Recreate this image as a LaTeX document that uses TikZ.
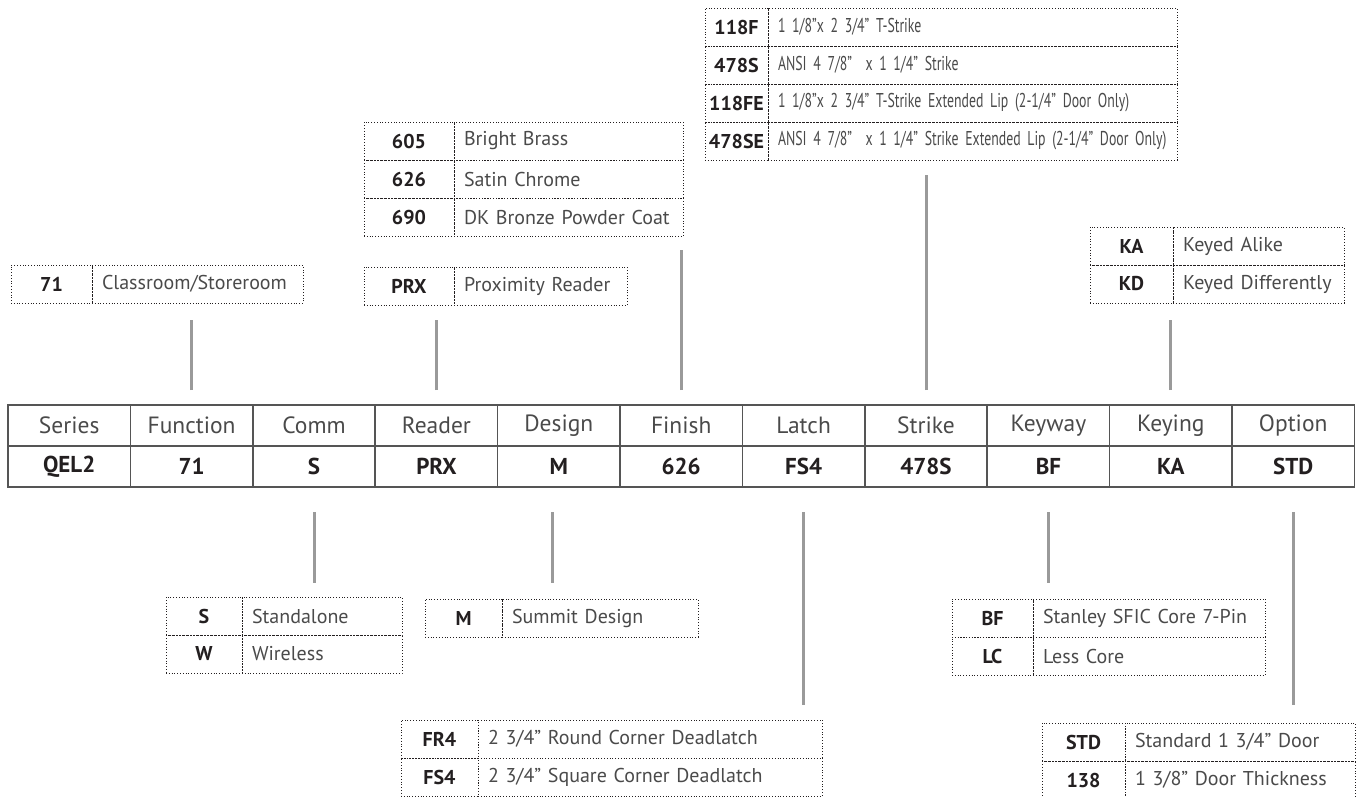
\documentclass[tikz,border=0pt]{standalone}
\usepackage{fontspec}
\setmainfont{PT Sans}
\newfontfamily\narrowfont{PT Sans}[FakeStretch=0.69, WordSpace=0.7]
\usetikzlibrary{positioning}

\definecolor{txtgray}{HTML}{4A4A4A}
\definecolor{codeblack}{HTML}{231F20}
\definecolor{linegray}{HTML}{9A9A9A}
\definecolor{framegray}{HTML}{555555}

\tikzset{
  cell/.style={draw=framegray, line width=1.5pt, minimum width=122.4pt, minimum height=41pt,
    inner sep=0pt, outer sep=0pt},
  head/.style={cell, text=txtgray, font=\fontsize{23.5}{26}\selectfont},
  val/.style={cell, text=codeblack, font=\fontsize{23}{26}\selectfont\bfseries},
  dotbox/.style={draw=codeblack, dotted, line width=0.8pt, inner sep=0pt, outer sep=0pt,
    minimum height=38pt, font=\fontsize{20}{23}\selectfont},
  code/.style={dotbox, minimum width=#1, text=codeblack, font=\fontsize{20}{23}\selectfont\bfseries},
  desc/.style={dotbox, text width=#1, inner xsep=10pt, align=left, text=txtgray},
  link/.style={draw=linegray, line width=3pt},
}

\begin{document}
\begin{tikzpicture}[x=1pt, y=-1pt]
  \useasboundingbox (0,0) rectangle (1364,796);

  % ordering table
  \foreach \hd/\vl [count=\i] in {Series/QEL2, Function/71, Comm/S, Reader/PRX, Design/M,
      Finish/626, Latch/FS4, Strike/478S, Keyway/BF, Keying/KA, Option/STD} {
    \node[head] (h\i) at ({8+122.4*(\i-0.5)}, 425.5) {\hd};
    \node[val]  (v\i) at ({8+122.4*(\i-0.5)}, 466.5) {\vl};
  }

  % function
  \node[code=81pt, anchor=north west] (fn1) at (11,265) {71};
  \node[desc=191pt, right=0pt of fn1] (fn1d) {Classroom/Storeroom};

  % reader
  \node[code=90pt, anchor=north west] (rd1) at (364,267) {PRX};
  \node[desc=153pt, right=0pt of rd1] (rd1d) {Proximity Reader};

  % finish
  \node[code=90pt, anchor=north west] (fin1) at (364,122) {605};
  \node[desc=209pt, right=0pt of fin1] (fin1d) {Bright Brass};
  \node[code=90pt, below=0pt of fin1] (fin2) {626};
  \node[desc=209pt, right=0pt of fin2] (fin2d) {Satin Chrome};
  \node[code=90pt, below=0pt of fin2] (fin3) {690};
  \node[desc=209pt, right=0pt of fin3] (fin3d) {DK Bronze Powder Coat};

  % strike
  \node[code=63pt, anchor=north west] (str1) at (705,8) {118F};
  \node[desc=389pt, right=0pt of str1] (str1d) {\narrowfont\mbox{1 1/8”x 2 3/4” T-Strike}};
  \node[code=63pt, below=0pt of str1] (str2) {478S};
  \node[desc=389pt, right=0pt of str2] (str2d) {\narrowfont\mbox{ANSI 4 7/8”\ \ x 1 1/4” Strike}};
  \node[code=63pt, below=0pt of str2] (str3) {118FE};
  \node[desc=389pt, right=0pt of str3] (str3d) {\narrowfont\mbox{1 1/8”x 2 3/4” T-Strike Extended Lip (2-1/4” Door Only)}};
  \node[code=63pt, below=0pt of str3] (str4) {478SE};
  \node[desc=389pt, right=0pt of str4] (str4d) {\narrowfont\mbox{ANSI 4 7/8”\ \ x 1 1/4” Strike Extended Lip (2-1/4” Door Only)}};

  % keying
  \node[code=83pt, anchor=north west] (key1) at (1090,227) {KA};
  \node[desc=151pt, right=0pt of key1] (key1d) {Keyed Alike};
  \node[code=83pt, below=0pt of key1] (key2) {KD};
  \node[desc=151pt, right=0pt of key2] (key2d) {Keyed Differently};

  % comm
  \node[code=76pt, anchor=north west] (com1) at (166,597) {S};
  \node[desc=140pt, right=0pt of com1] (com1d) {Standalone};
  \node[code=76pt, below=0pt of com1] (com2) {W};
  \node[desc=140pt, right=0pt of com2] (com2d) {Wireless};

  % design
  \node[code=77pt, anchor=north west] (dsn1) at (425,599) {M};
  \node[desc=176pt, right=0pt of dsn1] (dsn1d) {Summit Design};

  % latch
  \node[code=77pt, anchor=north west] (lat1) at (401,720) {FR4};
  \node[desc=324pt, right=0pt of lat1] (lat1d) {2 3/4” Round Corner Deadlatch};
  \node[code=77pt, below=0pt of lat1] (lat2) {FS4};
  \node[desc=324pt, right=0pt of lat2] (lat2d) {2 3/4” Square Corner Deadlatch};

  % keyway
  \node[code=81pt, anchor=north west] (kw1) at (952,599) {BF};
  \node[desc=212pt, right=0pt of kw1] (kw1d) {Stanley SFIC Core 7-Pin};
  \node[code=81pt, below=0pt of kw1] (kw2) {LC};
  \node[desc=212pt, right=0pt of kw2] (kw2d) {Less Core};

  % option
  \node[code=83pt, anchor=north west] (opt1) at (1042,723) {STD};
  \node[desc=210pt, right=0pt of opt1] (opt1d) {Standard 1 3/4” Door};
  \node[code=83pt, below=0pt of opt1] (opt2) {138};
  \node[desc=210pt, right=0pt of opt2] (opt2d) {1 3/8” Door Thickness};

  % leader lines
  \draw[link] (h2.north) ++(0,-15) -- ++(0,-70);
  \draw[link] (h4.north) ++(0,-15) -- ++(0,-70);
  \draw[link] (h6.north) ++(0,-15) -- ++(0,-140);
  \draw[link] (h8.north) ++(0,-15) -- ++(0,-215);
  \draw[link] (h10.north) ++(0,-15) -- ++(0,-70);
  \draw[link] (v3.south) ++(0,25) -- ++(0,71);
  \draw[link] (v5.south) ++(-6,25) -- ++(0,71);
  \draw[link] (v7.south) ++(0,25) -- ++(0,193);
  \draw[link] (v9.south) ++(0,25) -- ++(0,71);
  \draw[link] (v11.south) ++(0,25) -- ++(0,193);
\end{tikzpicture}
\end{document}
